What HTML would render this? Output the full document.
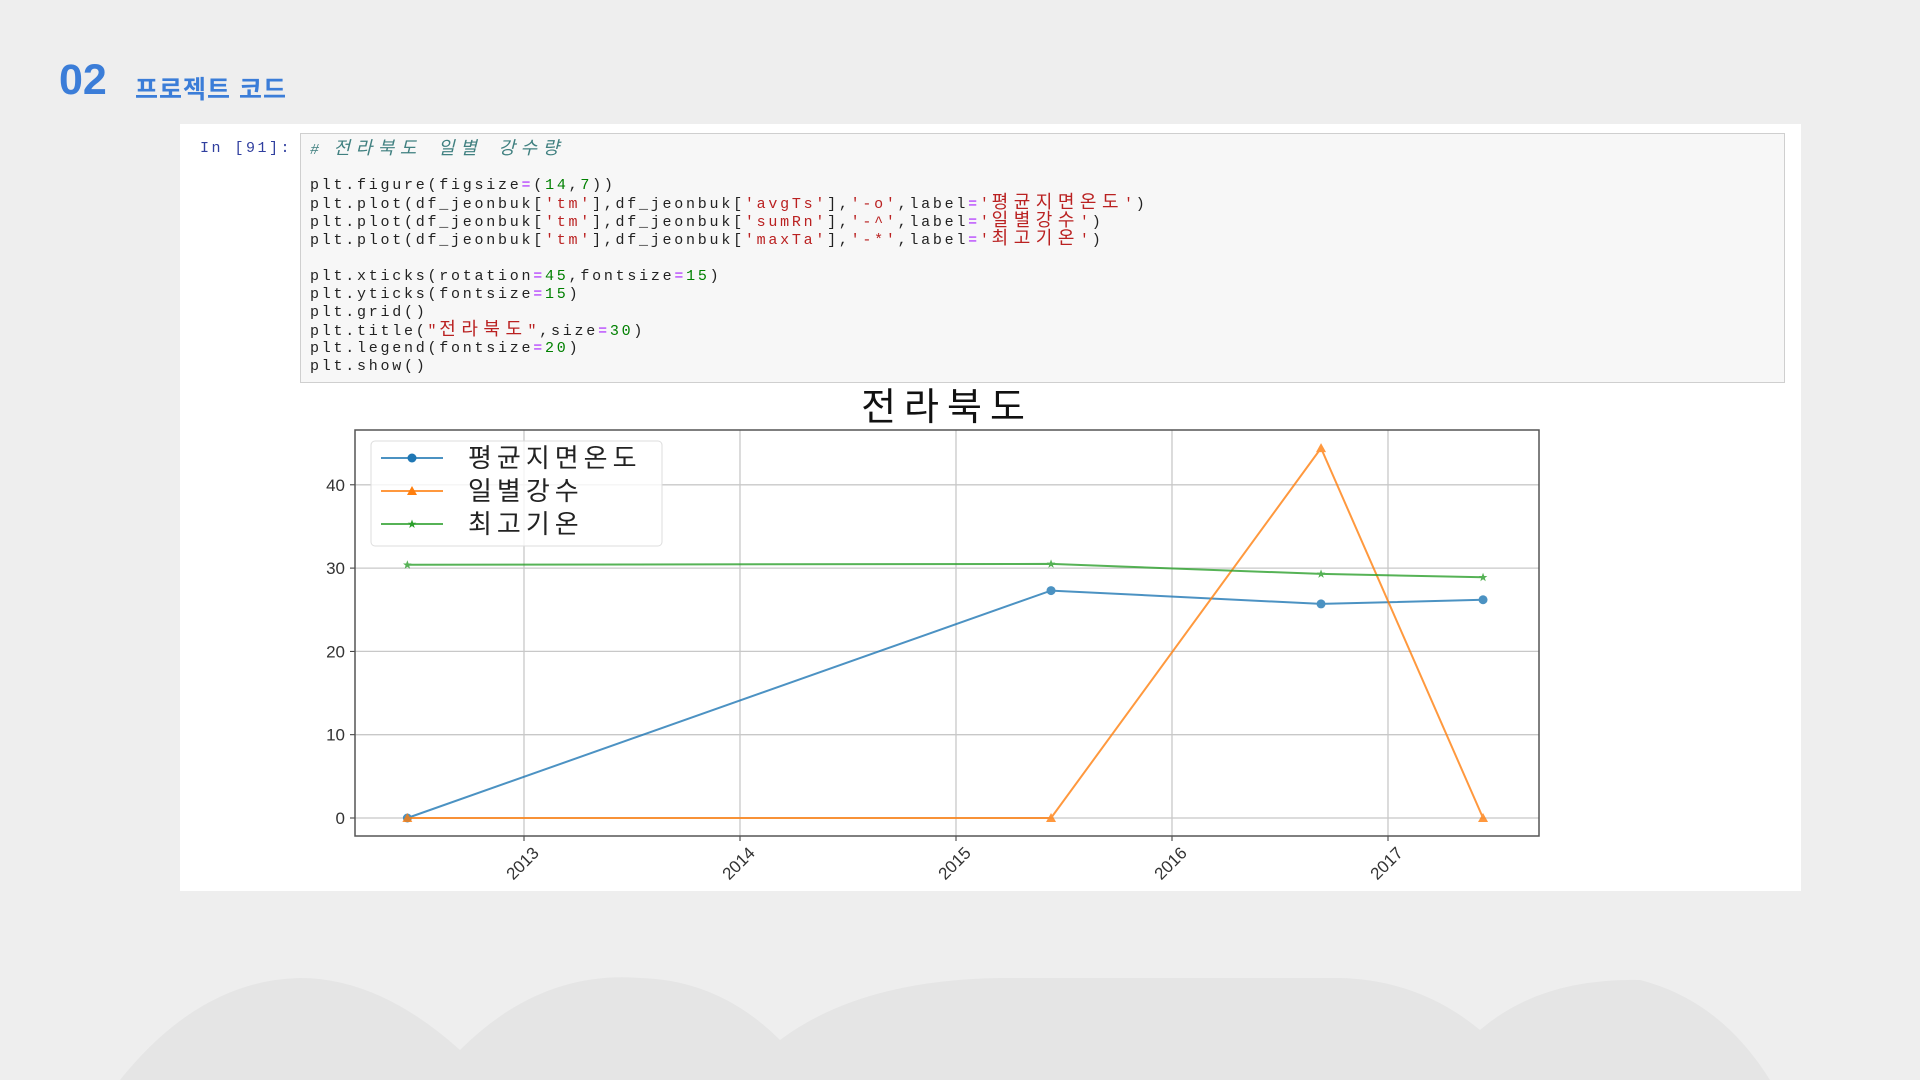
<!DOCTYPE html>
<html><head><meta charset="utf-8">
<style>
html,body{margin:0;padding:0;width:1920px;height:1080px;overflow:hidden;background:#eeeeee;font-family:"Liberation Sans","Noto Sans CJK KR",sans-serif;}
.abs{position:absolute;}
#panel{left:180px;top:124px;width:1621px;height:767px;background:#fff;}
#code{left:300px;top:133px;width:1483px;height:248px;background:#f7f7f7;border:1px solid #cfcfcf;}
.ln{position:absolute;left:9px;font-family:"Liberation Mono","Noto Sans CJK KR",monospace;font-size:15px;letter-spacing:2.75px;color:#222;white-space:pre;line-height:18px;}
.s{color:#ba2121}.n{color:#008000}.o{color:#aa22ff}.c{color:#408080;font-style:italic}
.k{font-size:18px;letter-spacing:5.5px;}
</style></head><body>
<svg class="abs" style="left:0;top:960px" width="1920" height="120">
<path d="M120,120 Q200,20 300,18 Q380,18 460,90 Q540,10 640,18 Q720,20 780,80 Q860,20 1000,18 L1340,18 Q1420,20 1480,70 Q1540,18 1640,20 Q1720,40 1770,120 Z" fill="#e5e5e5"/>
</svg>
<div class="abs" style="left:59px;top:56px;font-size:43px;font-weight:bold;color:#3b7dd8">02</div>
<div class="abs" style="left:135px;top:70px;font-size:25px;font-weight:bold;color:#3b7dd8;letter-spacing:1px">프로젝트 코드</div>
<div id="panel" class="abs"></div>
<div class="abs" style="left:200px;top:140px;font-family:'Liberation Mono',monospace;font-size:15px;letter-spacing:2.5px;color:#303f9f">In [91]:</div>
<div id="code" class="abs">
<div class="ln" style="top:7px"><span class="c"># <span class="k">전라북도 일별 강수량</span></span></div>
<div class="ln" style="top:43px">plt.figure(figsize<span class="o">=</span>(<span class="n">14</span>,<span class="n">7</span>))</div>
<div class="ln" style="top:61px">plt.plot(df_jeonbuk[<span class="s">'tm'</span>],df_jeonbuk[<span class="s">'avgTs'</span>],<span class="s">'-o'</span>,label<span class="o">=</span><span class="s">'<span class="k">평균지면온도</span>'</span>)</div>
<div class="ln" style="top:79px">plt.plot(df_jeonbuk[<span class="s">'tm'</span>],df_jeonbuk[<span class="s">'sumRn'</span>],<span class="s">'-^'</span>,label<span class="o">=</span><span class="s">'<span class="k">일별강수</span>'</span>)</div>
<div class="ln" style="top:97px">plt.plot(df_jeonbuk[<span class="s">'tm'</span>],df_jeonbuk[<span class="s">'maxTa'</span>],<span class="s">'-*'</span>,label<span class="o">=</span><span class="s">'<span class="k">최고기온</span>'</span>)</div>
<div class="ln" style="top:134px">plt.xticks(rotation<span class="o">=</span><span class="n">45</span>,fontsize<span class="o">=</span><span class="n">15</span>)</div>
<div class="ln" style="top:152px">plt.yticks(fontsize<span class="o">=</span><span class="n">15</span>)</div>
<div class="ln" style="top:170px">plt.grid()</div>
<div class="ln" style="top:188px">plt.title(<span class="s">"<span class="k">전라북도</span>"</span>,size<span class="o">=</span><span class="n">30</span>)</div>
<div class="ln" style="top:206px">plt.legend(fontsize<span class="o">=</span><span class="n">20</span>)</div>
<div class="ln" style="top:224px">plt.show()</div>
</div>
<svg id="chart" class="abs" style="left:0;top:0" width="1920" height="1080"></svg>
<script>
const dates=[2012.46,2015.44,2016.69,2017.44];
const avgTs=[0,27.3,25.7,26.2];
const sumRn=[0,0,44.4,0];
const maxTa=[30.4,30.5,29.3,28.9];
const xTicks=[2013,2014,2015,2016,2017];
const yTicks=[0,10,20,30,40];
const seriesNames=['평균지면온도','일별강수','최고기온'];
const NS='http://www.w3.org/2000/svg';
const L=355,R=1539,T=430,B=836;
const sx=v=>524+(v-2013)*216;
const sy=v=>818-v*8.33;
const svg=document.getElementById('chart');
function mk(t,a,p){const e=document.createElementNS(NS,t);for(const k in a)e.setAttribute(k,a[k]);(p||svg).appendChild(e);return e;}
const title=mk('text',{x:947,y:420,'text-anchor':'middle','font-size':38,'letter-spacing':8,fill:'#111','font-family':'Liberation Sans, Noto Sans CJK KR, sans-serif'});
title.textContent='전라북도';


xTicks.forEach(v=>{
 const g=mk('line',{x1:sx(v),x2:sx(v),y1:T,y2:B,stroke:'#c8c8c8','stroke-width':1.3});
 
 
 mk('line',{x1:sx(v),x2:sx(v),y1:B,y2:B+5,stroke:'#333'});
 const t=mk('text',{x:sx(v)+16,y:B+18,'text-anchor':'end','font-size':17,fill:'#333',transform:`rotate(-45 ${sx(v)+16} ${B+18})`,'font-family':'Liberation Sans, sans-serif'});
 t.textContent=v;
 
 
});
yTicks.forEach(v=>{
 const g=mk('line',{x1:L,x2:R,y1:sy(v),y2:sy(v),stroke:'#c8c8c8','stroke-width':1.3});
 
 
 mk('line',{x1:L-5,x2:L,y1:sy(v),y2:sy(v),stroke:'#333'});
 const t=mk('text',{x:L-10,y:sy(v)+6,'text-anchor':'end','font-size':17,fill:'#333','font-family':'Liberation Sans, sans-serif'});
 t.textContent=v;
 
 
});
const frame=mk('rect',{x:L,y:T,width:R-L,height:B-T,fill:'none',stroke:'#555','stroke-width':1.5});


function marker(type,x,y,c,p){
 if(type==='o')return mk('circle',{cx:x,cy:y,r:4.5,fill:c},p);
 if(type==='^')return mk('path',{d:`M${x},${y-5}L${x+5},${y+4}L${x-5},${y+4}Z`,fill:c},p);
 return mk('path',{d:`M${x},${y-4.5}L${x+1.2},${y-1.3}L${x+4.3},${y-1.3}L${x+1.8},${y+0.7}L${x+2.7},${y+4}L${x},${y+2}L${x-2.7},${y+4}L${x-1.8},${y+0.7}L${x-4.3},${y-1.3}L${x-1.2},${y-1.3}Z`,fill:c},p);
}
const series=[[avgTs,'#1f77b4','o','series-avgTs'],[sumRn,'#ff7f0e','^','series-sumRn'],[maxTa,'#2ca02c','*','series-maxTa']];
series.forEach(([vals,c,m,name])=>{
 const g=mk('g',{opacity:0.8});
 
 
 mk('polyline',{points:vals.map((v,i)=>sx(dates[i])+','+sy(v)).join(' '),fill:'none',stroke:c,'stroke-width':2},g);
 vals.forEach((v,i)=>{const p=marker(m,sx(dates[i]),sy(v),c,g);
  
  });
});
const lg=mk('g',{});


mk('rect',{x:371,y:441,width:291,height:105,rx:4,fill:'#fff','fill-opacity':0.8,stroke:'#ddd'},lg);
series.forEach(([vals,c,m],i)=>{
 const y=458+i*33;
 const e=mk('g',{},lg);
 
 
 mk('line',{x1:381,x2:443,y1:y,y2:y,stroke:c,'stroke-width':2,opacity:0.8},e);
 marker(m,412,y,c,e);
 const t=mk('text',{x:468,y:y+9,'font-size':26,'letter-spacing':5,fill:'#222','font-family':'Liberation Sans, Noto Sans CJK KR, sans-serif'},e);
 t.textContent=seriesNames[i];
});
</script>
</body></html>
